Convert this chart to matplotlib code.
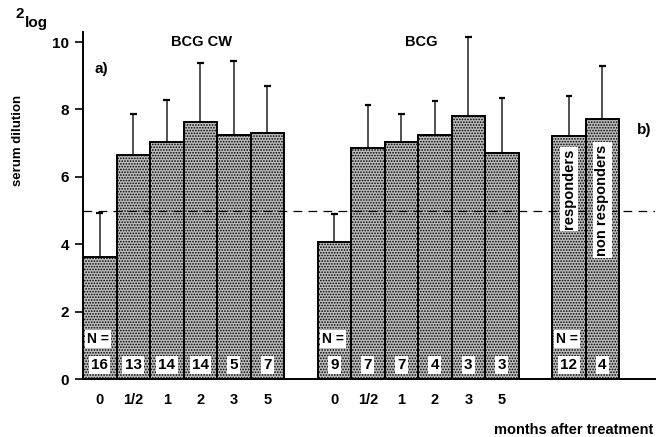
import numpy as np
import matplotlib
matplotlib.use("Agg")
import matplotlib.pyplot as plt

plt.rcParams['font.family'] = ['Liberation Sans', 'DejaVu Sans']
plt.rcParams['hatch.linewidth'] = 0.8

# data
months = ['0', '1/2', '1', '2', '3', '5']
cw_mean = [3.62, 6.64, 7.04, 7.64, 7.24, 7.29]
cw_top = [4.94, 7.86, 8.28, 9.39, 9.44, 8.69]
cw_n = [16, 13, 14, 14, 5, 7]

bcg_mean = [4.08, 6.86, 7.04, 7.24, 7.81, 6.72]
bcg_top = [4.90, 8.12, 7.88, 8.25, 10.14, 8.34]
bcg_n = [9, 7, 7, 4, 3, 3]

resp_labels = ['responders', 'non responders']
resp_mean = [7.21, 7.72]
resp_top = [8.41, 9.29]
resp_n = [12, 4]

cutoff = 5.0

# bar positions (bar width = 1)
x_cw = np.arange(6) + 0.5
x_bcg = np.arange(6) + 7.5
x_resp = np.arange(2) + 14.5

fig = plt.figure(figsize=(6.63, 4.37), dpi=100)
ax = fig.add_axes([0.1252, 0.1327, 0.8628, 0.7941])

bar_kw = dict(width=1.0, facecolor='#bcbcbc', edgecolor='black',
              linewidth=1.4, hatch='......', zorder=2)

for xs, means, tops in [(x_cw, cw_mean, cw_top), (x_bcg, bcg_mean, bcg_top),
                        (x_resp, resp_mean, resp_top)]:
    ax.bar(xs, means, **bar_kw)
    # one-sided error bars
    ax.vlines(xs, means, tops, color='#333333', linewidth=1.2, zorder=1)
    ax.hlines(tops, xs - 0.1, xs + 0.1, color='black', linewidth=1.6, zorder=1)

# dashed cut-off line
ax.axhline(cutoff, color='black', linestyle=(0, (7, 5)), linewidth=0.9, zorder=3)

# N labels in white boxes
box = dict(boxstyle='square,pad=0.15', facecolor='white', edgecolor='none')
for xs, ns in [(x_cw, cw_n), (x_bcg, bcg_n), (x_resp, resp_n)]:
    for x, n in zip(xs, ns):
        ax.text(x, 0.42, str(n), ha='center', va='center', fontsize=11,
                fontweight='bold', bbox=box, zorder=4)
for x0 in [x_cw[0] - 0.05, x_bcg[0] - 0.05, x_resp[0] - 0.05]:
    ax.text(x0, 1.19, 'N =', ha='center', va='center', fontsize=10,
            fontweight='bold', bbox=box, zorder=4)

# vertical labels in the responder bars
for x, lab, yc in zip(x_resp, resp_labels, [5.64, 5.31]):
    ax.text(x, yc, lab, rotation=90, ha='center', va='center', fontsize=10.5,
            fontweight='bold', bbox=box, zorder=4)

# month labels under bars
for x, m in zip(np.concatenate([x_cw, x_bcg]), months + months):
    ax.text(x, -0.62, m, ha='center', va='center', fontsize=10.5,
            fontweight='bold')

ax.text(3.55, 10.0, 'BCG CW', ha='center', va='center', fontsize=10.5, fontweight='bold')
ax.text(10.1, 10.0, 'BCG', ha='center', va='center', fontsize=10.5, fontweight='bold')
ax.text(0.35, 9.2, 'a)', ha='left', va='center', fontsize=11, fontweight='bold')
ax.text(16.95, 7.4, 'b)', ha='right', va='center', fontsize=11, fontweight='bold')

ax.set_xlim(0, 17.07)
ax.set_ylim(0, 10.3)
ax.set_yticks([0, 2, 4, 6, 8, 10])
ax.set_yticklabels(['0', '2', '4', '6', '8', '10'], fontsize=11, fontweight='bold')
ax.tick_params(axis='y', length=6, width=1.2, pad=4)
ax.set_xticks([])
for s in ['top', 'right']:
    ax.spines[s].set_visible(False)
ax.spines['left'].set_linewidth(1.4)
ax.spines['bottom'].set_linewidth(1.4)

fig.text(18 / 663, 1 - 140 / 437, 'serum dilution', rotation=90, ha='center',
         va='center', fontsize=9.5, fontweight='bold')
fig.text(15 / 663, 1 - 14 / 437, '2', ha='left', va='center', fontsize=11, fontweight='bold')
fig.text(25 / 663, 1 - 23 / 437, 'log', ha='left', va='center', fontsize=11, fontweight='bold')
fig.text(653 / 663, 1 - 430 / 437, 'months after treatment', ha='right',
         va='center', fontsize=10.5, fontweight='bold')

fig.savefig('out.png', dpi=100)
